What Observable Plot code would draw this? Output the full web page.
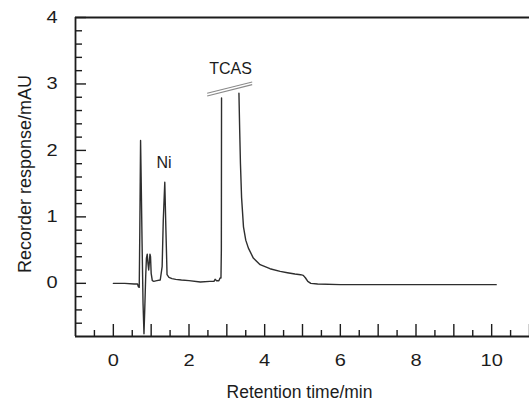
<!DOCTYPE html>
<html><head><meta charset="utf-8">
<script src="https://cdn.jsdelivr.net/npm/d3@7"></script>
<script src="https://cdn.jsdelivr.net/npm/@observablehq/plot@0.6"></script>
<style>
html,body{margin:0;padding:0;background:#fff;}
#chart svg{display:block;font-family:"Liberation Sans",Arial,Helvetica,sans-serif;}
</style></head><body>
<div id="chart"></div>
<script>
// Retention time (min) and recorder response (mAU); NaN marks the off-scale break of the TCAS peak
const time = [0.00,0.30,0.55,0.64,0.66,0.685,0.70,0.72,0.735,0.76,0.785,0.81,0.83,0.855,0.875,0.896,0.915,0.935,0.955,0.968,0.983,1.00,1.03,1.07,1.15,1.24,1.29,1.32,1.36,1.39,1.42,1.47,1.55,1.65,1.80,2.00,2.30,2.55,2.66,2.69,2.73,2.79,2.82,2.845,2.855,2.86,3.00,3.32,3.34,3.36,3.39,3.44,3.50,3.57,3.70,3.88,4.14,4.41,4.60,4.80,4.95,5.02,5.08,5.14,5.22,5.40,6.00,6.50,7.00,7.50,8.00,8.50,9.00,9.50,10.12];
const response = [0.00,0.00,-0.01,-0.01,-0.05,-0.06,0.80,2.15,1.60,0.60,-0.30,-0.76,-0.40,0.10,0.38,0.44,0.30,0.20,0.34,0.44,0.40,0.15,0.04,0.03,0.04,0.05,0.25,0.95,1.52,0.80,0.13,0.09,0.07,0.06,0.05,0.04,0.02,0.03,0.03,0.06,0.04,0.04,0.08,0.08,0.50,2.79,NaN,2.86,2.30,1.80,1.29,0.85,0.65,0.53,0.38,0.28,0.22,0.18,0.16,0.14,0.13,0.12,0.08,0.03,0.00,-0.01,-0.02,-0.02,-0.02,-0.02,-0.02,-0.02,-0.02,-0.02,-0.02];

// Axes
const xDomain = [-1, 11];
const yDomain = [-0.8, 4];
const xMajorTicks = [0,1,2,3,4,5,6,7,8,9,10,11];
const xMinorTicks = [-0.5,0.5,1.5,2.5,3.5,4.5,5.5,6.5,7.5,8.5,9.5,10.5];
const xTickLabels = [0,2,4,6,8,10];
const yMajorTicks = [0,1,2,3,4];
const yMinorTicks = [-0.6,-0.4,-0.2,0.2,0.4,0.6,0.8,1.2,1.4,1.6,1.8,2.2,2.4,2.6,2.8,3.2,3.4,3.6,3.8];
const xTitle = "Retention time/min";
const yTitle = "Recorder response/mAU";

// Peak annotations
const peakNames = ["Ni", "TCAS"];
const peakNameTime = [1.34, 3.10];
const peakNameResponse = [1.74, 3.15];

// Off-scale break mark (two parallel strokes)
const breakTime1 = [2.48, 2.48];
const breakResp1 = [2.86, 2.82];
const breakTime2 = [3.67, 3.67];
const breakResp2 = [3.03, 2.99];

const trace = time.map((t, i) => ({t, r: response[i]}));
const peaks = peakNames.map((name, i) => ({name, t: peakNameTime[i], r: peakNameResponse[i]}));
const breaks = breakTime1.map((t, i) => ({x1: t, y1: breakResp1[i], x2: breakTime2[i], y2: breakResp2[i]}));

const ink = "#1c1c1c";
const intFmt = d3.format("d");
const chart = Plot.plot({
  width: 529, height: 401,
  marginLeft: 75, marginRight: 0, marginTop: 17, marginBottom: 65,
  x: {domain: xDomain},
  y: {domain: yDomain},
  style: {fontFamily: '"Liberation Sans", Arial, sans-serif', fontSize: "16px", color: ink, background: "#fff", overflow: "visible"},
  marks: [
    Plot.axisX(xMajorTicks, {tickSize: -12, fill: "none", strokeWidth: 1.4, label: null}),
    Plot.axisX(xMinorTicks, {tickSize: -6, fill: "none", strokeWidth: 1.4, label: null}),
    Plot.axisX(xTickLabels, {tickSize: 0, tickPadding: 18, label: null, tickFormat: intFmt, fontSize: 16}),
    Plot.axisY(yMajorTicks, {tickSize: -11, fill: "none", strokeWidth: 1.4, label: null}),
    Plot.axisY(yMinorTicks, {tickSize: -7, fill: "none", strokeWidth: 1.4, label: null}),
    Plot.axisY(yMajorTicks, {tickSize: 0, tickPadding: 18, label: null, tickFormat: intFmt, fontSize: 16}),
    Plot.ruleX([xDomain[0]], {stroke: ink, strokeWidth: 1.8}),
    Plot.ruleY([yDomain[0], yDomain[1]], {stroke: ink, strokeWidth: 1.8}),
    Plot.line(trace, {x: "t", y: "r", stroke: "#2e2e2e", strokeWidth: 1.4, strokeLinejoin: "round"}),
    Plot.link(breaks, {x1: "x1", y1: "y1", x2: "x2", y2: "y2", stroke: "#8a8a8a", strokeWidth: 1.1}),
    Plot.text(peaks, {x: "t", y: "r", text: "name", lineAnchor: "bottom", fontSize: 16, fill: ink}),
    Plot.text([xTitle], {frameAnchor: "bottom", textAnchor: "middle", dx: -3, dy: 61, lineAnchor: "bottom", fontSize: 17.5, fill: ink}),
    Plot.text([yTitle], {frameAnchor: "left", textAnchor: "middle", dx: -45, dy: -3, rotate: -90, lineAnchor: "bottom", fontSize: 18, fill: ink})
  ]
});
document.getElementById("chart").append(chart);

// tick labels: fixed size, slightly widened glyphs as in the reference
function stretch(selector, size, k) {
  chart.querySelectorAll(selector).forEach(t => {
    t.setAttribute("font-size", size);
    t.style.fontSize = size + "px";
    const L = t.getComputedTextLength();
    t.setAttribute("textLength", (L * k).toFixed(2));
    t.setAttribute("lengthAdjust", "spacingAndGlyphs");
  });
}
stretch('g[aria-label="x-axis tick label"] text', 16, 1.25);
stretch('g[aria-label="y-axis tick label"] text', 16, 1.25);
</script>
</body></html>
